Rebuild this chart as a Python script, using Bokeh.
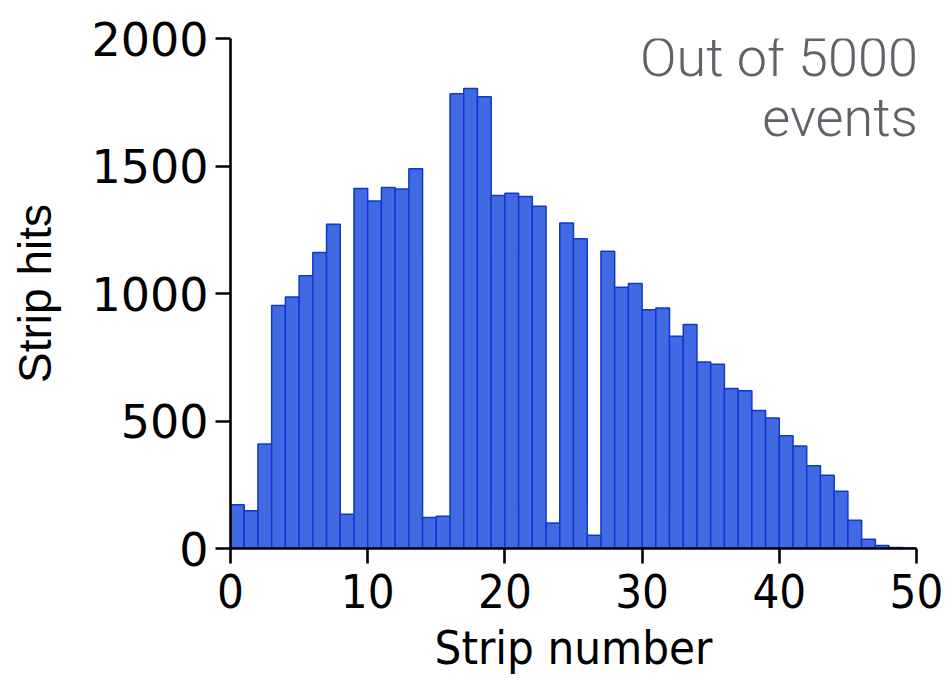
from bokeh.plotting import figure
from bokeh.models import Range1d, FixedTicker, Label
from bokeh.embed import file_html
from bokeh.resources import INLINE
import numpy as np

# Hits per strip (50 strips, one bin per strip)
strip_edges = list(range(0, 51))
strip_hits = [
    172, 148, 410, 953, 986, 1070, 1161, 1272, 134, 1412,
    1363, 1416, 1410, 1489, 122, 126, 1783, 1804, 1772, 1384,
    1393, 1380, 1342, 100, 1276, 1215, 52, 1166, 1025, 1039,
    936, 943, 832, 878, 731, 723, 627, 619, 541, 512,
    442, 402, 325, 287, 225, 111, 36, 12, 4, 2,
]
x_ticks = [0, 10, 20, 30, 40, 50]
y_ticks = [0, 500, 1000, 1500, 2000]
note_lines = ["Out of 5000", "events"]

edges = np.array(strip_edges, dtype=float)

p = figure(
    frame_width=686, frame_height=510,
    min_border_left=230, min_border_right=36,
    min_border_top=38, min_border_bottom=135,
    x_range=Range1d(0, 50), y_range=Range1d(0, 2000),
    output_backend="svg", toolbar_location=None,
    background_fill_color="white", border_fill_color="white",
)
p.outline_line_color = None
p.grid.visible = False

p.quad(left=edges[:-1], right=edges[1:], bottom=0, top=strip_hits,
       fill_color="#4169E1", line_color="#1038D0", line_width=1.5)

# axes
for ax in (p.xaxis[0], p.yaxis[0]):
    ax.axis_line_width = 2.6
    ax.axis_line_color = "black"
    ax.major_tick_line_width = 2.6
    ax.major_tick_line_color = "black"
    ax.major_tick_in = 0
    ax.major_tick_out = 15
    ax.minor_tick_line_color = None
    ax.major_label_text_color = "black"
    ax.axis_label_text_color = "black"
    ax.axis_label_text_font_style = "normal"

p.xaxis.ticker = FixedTicker(ticks=x_ticks)
p.yaxis.ticker = FixedTicker(ticks=y_ticks)

p.xaxis.axis_label = "Strip number"
p.xaxis.major_label_text_font = "DejaVu Sans Condensed"
p.xaxis.major_label_text_font_size = "47px"
p.xaxis.major_label_standoff = 10
p.xaxis.axis_label_text_font = "DejaVu Sans Condensed"
p.xaxis.axis_label_text_font_size = "47px"
p.xaxis.axis_label_standoff = 9

p.yaxis.axis_label = "Strip hits"
p.yaxis.major_label_text_font = "DejaVu Sans"
p.yaxis.major_label_text_font_size = "46px"
p.yaxis.major_label_standoff = 7
p.yaxis.axis_label_text_font = "Liberation Sans"
p.yaxis.axis_label_text_font_size = "46px"
p.yaxis.axis_label_standoff = 27

# corner note
for text, yv in zip(note_lines, [1925, 1690]):
    p.add_layout(Label(x=50.1, y=yv, text=text, text_align="right",
                       text_baseline="alphabetic", text_font="Roboto Light",
                       text_font_size="54px", text_color="#5E6269"))

open("out.html", "w").write(file_html(p, INLINE))
